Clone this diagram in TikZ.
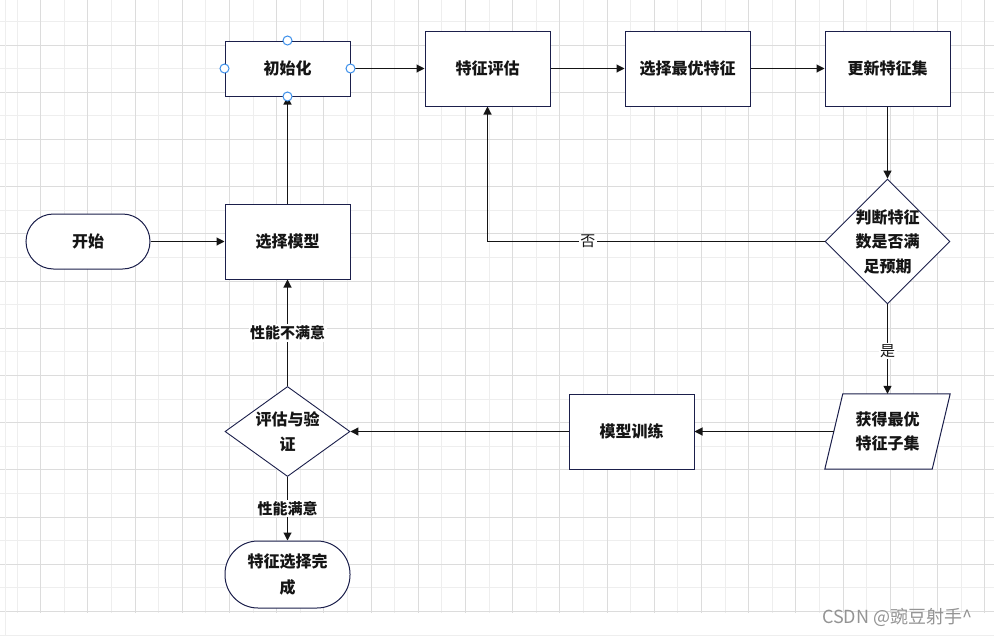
\documentclass[tikz,border=0pt]{standalone}
\usepackage{fontspec}
\newfontfamily\cjk{Noto Sans CJK SC}
\usetikzlibrary{arrows.meta,shapes.geometric}
\definecolor{nodeline}{HTML}{1B1F4B}
\definecolor{gridd}{HTML}{DCDCDC}
\definecolor{gridl}{HTML}{EEEEEE}
\definecolor{handlec}{HTML}{3B8EEA}
\definecolor{inkc}{HTML}{151515}
\begin{document}
\begin{tikzpicture}[x=1pt,y=-1pt,
  box/.style={draw=nodeline, line width=1pt, fill=white, minimum width=125pt, minimum height=75pt, inner sep=0pt, text=inkc, font=\cjk\bfseries\fontsize{16}{24}\selectfont, align=center},
  stad/.style={box},
  dia/.style={diamond, draw=nodeline, line width=0.9pt, fill=white, inner sep=0pt},
  txt/.style={text=inkc, font=\cjk\bfseries\fontsize{16}{24.5}\selectfont, align=center, inner sep=0pt},
  plain/.style={inner sep=0pt},
  conn/.style={draw=inkc, line width=1.1pt, -{Triangle[length=8pt,width=8pt]}},
  lbl/.style={fill=white, inner sep=1.5pt, text=inkc, font=\cjk\fontsize{15}{15}\selectfont},
  lblb/.style={lbl, font=\cjk\bfseries\fontsize{15}{15}\selectfont},
  handle/.style={draw=handlec, line width=1pt, fill=white}
]
\useasboundingbox (0,0) rectangle (994,635);
\fill[white] (0,0) rectangle (994,635);
% grid
\foreach \k in {0,...,41} {
  \draw[gridl, line width=1pt] ({17.1+23.6*\k},0) -- ({17.1+23.6*\k},612.6);
}
\foreach \k in {0,...,26} {
  \draw[gridl, line width=1pt] (0,{21.4+23.6*\k}) -- (994,{21.4+23.6*\k});
}
\foreach \k in {0,...,20} {
  \draw[gridd, line width=1pt] ({40.7+47.2*\k},0) -- ({40.7+47.2*\k},612.6);
}
\foreach \k in {0,...,12} {
  \draw[gridd, line width=1pt] (0,{45+47.2*\k}) -- (994,{45+47.2*\k});
}
\draw[gridl, line width=1pt] (5,0) -- (5,635);

% nodes
\node[stad, minimum width=124pt, minimum height=55pt, rounded corners=27.5pt] (start) at (88,241.5) {开始};
\node[box] (sel) at (287.5,241.5) {选择模型};
\node[box, minimum height=55pt] (init) at (287.5,68.5) {初始化};
\node[box] (eval) at (487.5,68.5) {特征评估};
\node[box] (best) at (687.5,68.5) {选择最优特征};
\node[box] (upd) at (887.5,68.5) {更新特征集};
\node[dia, minimum width=125pt, minimum height=125pt] (judge) at (887.5,241.5) {};
\node[txt] (judget) at (judge) {判断特征\\数是否满\\足预期};
\node[plain, minimum width=107pt, minimum height=75pt] (get) at (887.5,431.5) {};
\draw[draw=nodeline, line width=1pt, fill=white] ([xshift=9pt]get.north west) -- ([xshift=9pt]get.north east) -- ([xshift=-9pt]get.south east) -- ([xshift=-9pt]get.south west) -- cycle;
\node[txt] (gett) at (get) {获得最优\\特征子集};
\node[box] (train) at (631.5,431.5) {模型训练};
\node[dia, minimum width=125pt, minimum height=90pt] (val) at (287.5,431.5) {};
\node[txt] (valt) at (val) {评估与验\\证};
\node[stad, minimum width=125pt, minimum height=67pt, rounded corners=33pt, font=\cjk\bfseries\fontsize{16}{26}\selectfont] (done) at (287.5,574.5) {特征选择完\\成};

% connectors
\draw[conn] (start) -- (sel);
\draw[conn] (sel) -- (init);
\draw[conn] (init) -- (eval);
\draw[conn] (eval) -- (best);
\draw[conn] (best) -- (upd);
\draw[conn] (upd) -- (judge);
\draw[conn] (judge.west) -| node[lbl, pos=0.351] {否} (eval.south);
\draw[conn] (judge.south) -- node[lbl, pos=0.52] {是} (get.north);
\draw[conn] (get.west) -- (train.east);
\draw[conn] (train) -- (val.east);
\draw[conn] (val.north) -- node[lblb] {性能不满意} (sel.south);
\draw[conn] (val.south) -- node[lblb] {性能满意} (done.north);

% selection handles
\foreach \a in {north,south,east,west} {
  \draw[handle] (init.\a) circle (4.5pt);
}

% watermark
\node[anchor=west, inner sep=0pt, text=black!42, font=\cjk\fontsize{18}{18}\selectfont] (wm) at (822,617) {CSDN @豌豆射手\textasciicircum};
\end{tikzpicture}
\end{document}
